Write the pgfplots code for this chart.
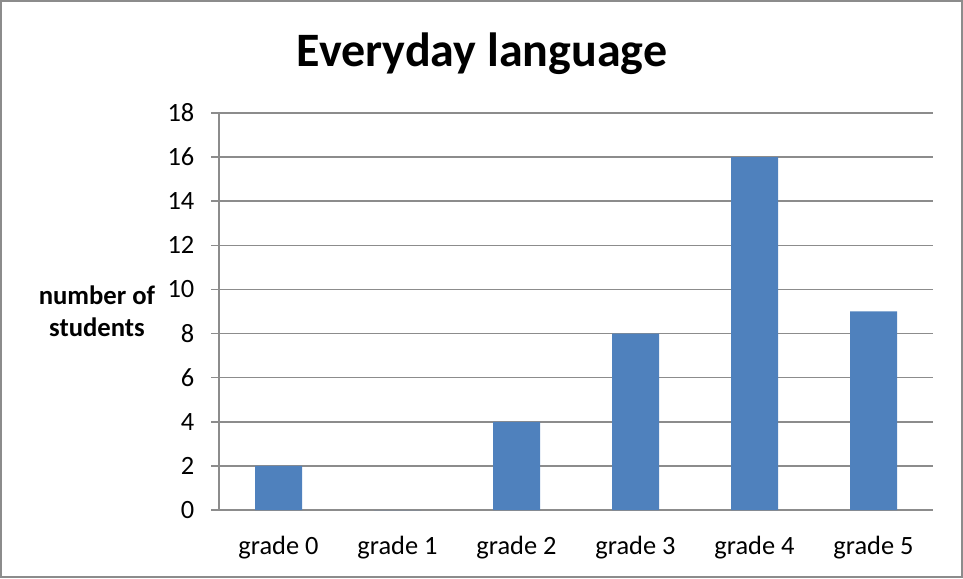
\documentclass[border=0pt]{standalone}
\usepackage{pgfplots}
\pgfplotsset{compat=1.18}
\usepackage{fontspec}
\setmainfont{Carlito}
\definecolor{barblue}{HTML}{4F81BD}
\definecolor{gridgray}{HTML}{8C8C8C}
\begin{document}
\begin{tikzpicture}
\draw[gridgray, line width=1.5pt] (0.75pt,0.75pt) rectangle (721.5pt,432.75pt);
\begin{axis}[
  at={(164.25pt,51pt)}, anchor=south west,
  scale only axis, width=535.5pt, height=297.75pt,
  xmin=-0.5, xmax=5.5, ymin=0, ymax=18,
  ytick={0,2,...,18},
  xtick={0,1,2,3,4,5},
  xticklabels={grade 0,grade 1,grade 2,grade 3,grade 4,grade 5},
  minor xtick={-0.5,0.5,1.5,2.5,3.5,4.5,5.5},
  axis x line*=bottom, axis y line*=left,
  axis line style={-, gridgray, line width=1.1pt},
  ymajorgrids, grid style={gridgray, line width=1.1pt},
  tick align=outside,
  major tick length=6pt, minor tick length=6pt,
  every tick/.style={gridgray, line width=1.1pt},
  xtick style={draw=none},
  minor x tick style={gridgray, line width=1.1pt},
  tick label style={font=\fontsize{19.8}{22}\selectfont, text=black},
  /pgf/number format/assume math mode=true,
  yticklabel style={xshift=-9pt},
  xticklabel style={yshift=-10pt},
  ybar, bar width=35.25pt,
]
\addplot[fill=barblue, draw=none] coordinates {(0,2) (1,0) (2,4) (3,8) (4,16) (5,9)};
\end{axis}
\node[font=\fontsize{36}{42}\selectfont\bfseries] at (361.5pt,393pt) {Everyday language};
\node[font=\fontsize{20}{24}\selectfont\bfseries, align=center] at (72.75pt,200pt) {number of\\students};
\end{tikzpicture}
\end{document}
